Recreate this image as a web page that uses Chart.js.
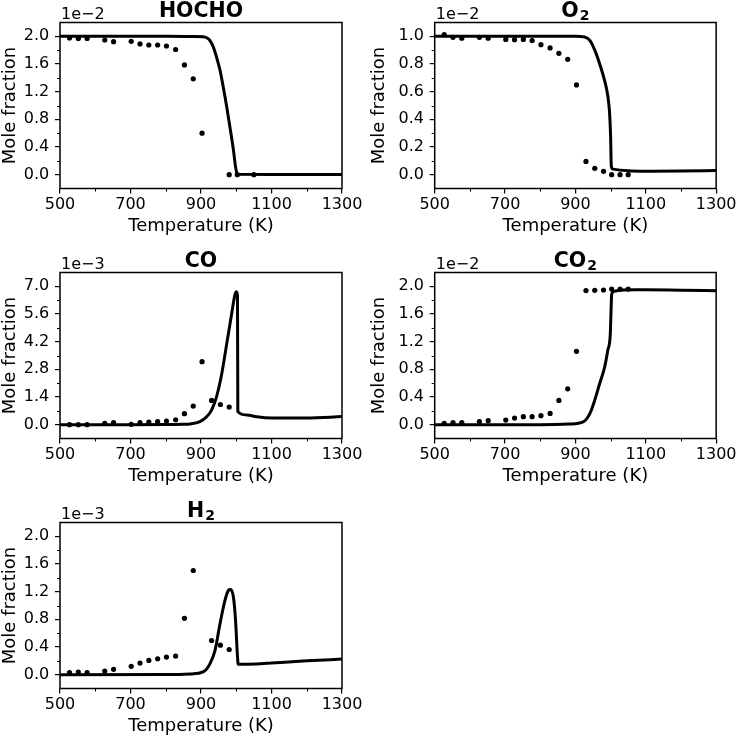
<!DOCTYPE html>
<html>
<head>
<meta charset="utf-8">
<script src="https://cdn.jsdelivr.net/npm/chart.js@4"></script>
<style>
  html, body { margin: 0; padding: 0; background: #fff; }
  #fig { position: relative; width: 738px; height: 738px; overflow: hidden; }
  #fig canvas { position: absolute; }
</style>
</head>
<body>
<div id="fig"></div>
<script>
"use strict";

// Temperature axis (K)
const xTicks = [500, 700, 900, 1100, 1300];

// HOCHO (x 1e-2)
const hochoLineT = [500, 600, 700, 800, 880, 906, 916, 925, 935, 944, 954, 963, 973, 982, 992, 998, 1003, 1100, 1200, 1300];
const hochoLineY = [2.0, 2.0, 2.0, 2.0, 1.998, 1.995, 1.98, 1.943, 1.846, 1.70, 1.51, 1.27, 0.98, 0.69, 0.356, 0.115, 0.005, 0.004, 0.004, 0.004];
const hochoExpT = [527, 552, 577, 627, 652, 702, 727, 752, 777, 802, 828, 853, 878, 903, 980, 1003, 1050];
const hochoExpY = [1.976, 1.97, 1.97, 1.947, 1.923, 1.928, 1.89, 1.875, 1.875, 1.86, 1.81, 1.587, 1.385, 0.60, 0, 0, 0];
const hochoTicks = [0.0, 0.4, 0.8, 1.2, 1.6, 2.0];

// O2 (x 1e-2)
const o2LineT = [500, 700, 900, 926, 941, 955, 969, 983, 992, 997, 1000, 1002, 1007, 1050, 1100, 1200, 1300];
const o2LineY = [1.0, 1.0, 1.0, 0.995, 0.971, 0.90, 0.80, 0.68, 0.57, 0.45, 0.28, 0.06, 0.04, 0.028, 0.025, 0.026, 0.03];
const o2ExpT = [527, 552, 577, 627, 652, 702, 727, 752, 777, 802, 828, 853, 878, 903, 930, 955, 980, 1003, 1027, 1050];
const o2ExpY = [1.012, 0.993, 0.986, 0.993, 0.986, 0.978, 0.976, 0.978, 0.969, 0.94, 0.916, 0.877, 0.834, 0.649, 0.096, 0.046, 0.024, 0.0, 0.0, 0.0];
const o2Ticks = [0.0, 0.2, 0.4, 0.6, 0.8, 1.0];

// CO (x 1e-3)
const coLineT = [500, 700, 800, 850, 869, 897, 916, 930, 944, 959, 973, 987, 996, 1000, 1003.5, 1004.5, 1030, 1058, 1100, 1200, 1300];
const coLineY = [0, 0, 0.01, 0.02, 0.035, 0.15, 0.40, 0.74, 1.41, 2.59, 4.10, 5.61, 6.55, 6.72, 6.55, 0.66, 0.49, 0.40, 0.34, 0.34, 0.41];
const coExpT = [527, 552, 577, 627, 652, 702, 727, 752, 777, 802, 828, 853, 878, 903, 930, 955, 980];
const coExpY = [0, 0, 0, 0.067, 0.10, 0.017, 0.10, 0.134, 0.15, 0.185, 0.25, 0.554, 0.94, 3.19, 1.225, 1.02, 0.89];
const coTicks = [0.0, 1.4, 2.8, 4.2, 5.6, 7.0];

// CO2 (x 1e-2)
const co2LineT = [500, 800, 884, 922, 941, 955, 969, 983, 992, 999, 1001, 1003, 1010, 1073, 1100, 1200, 1300];
const co2LineY = [0, 0, 0.01, 0.04, 0.16, 0.355, 0.595, 0.83, 1.075, 1.30, 1.60, 1.88, 1.93, 1.95, 1.95, 1.945, 1.935];
const co2ExpT = [527, 552, 577, 627, 652, 702, 727, 752, 777, 802, 828, 853, 878, 903, 930, 955, 980, 1003, 1027, 1050];
const co2ExpY = [0.019, 0.029, 0.029, 0.043, 0.058, 0.067, 0.096, 0.115, 0.115, 0.13, 0.163, 0.35, 0.518, 1.06, 1.938, 1.942, 1.947, 1.96, 1.96, 1.96];
const co2Ticks = [0.0, 0.4, 0.8, 1.2, 1.6, 2.0];

// H2 (x 1e-3)
const h2LineT = [500, 800, 869, 907, 926, 940, 954, 968, 978, 984, 992, 998, 1003, 1005.5, 1058, 1100, 1200, 1300];
const h2LineY = [0, 0.002, 0.01, 0.043, 0.164, 0.355, 0.74, 1.075, 1.22, 1.233, 1.12, 0.787, 0.308, 0.15, 0.155, 0.168, 0.20, 0.225];
const h2ExpT = [527, 552, 577, 627, 652, 702, 727, 752, 777, 802, 828, 853, 878, 930, 955, 980];
const h2ExpY = [0.029, 0.038, 0.029, 0.053, 0.077, 0.12, 0.168, 0.206, 0.23, 0.254, 0.269, 0.815, 1.506, 0.494, 0.427, 0.364];
const h2Ticks = [0.0, 0.4, 0.8, 1.2, 1.6, 2.0];

const FONT = "'DejaVu Sans', sans-serif";

// Panel boxes (grid of 2 columns x 3 rows)
const colLeft = [60, 434.7];
const colRight = [342, 716.7];
const yLabelGap = [45, 50.5];

// frame, minor ticks, title, offset text and axis labels
const panelDecor = {
    id: 'panelDecor',
    afterDraw(chart, args, opts) {
        const { ctx, chartArea: a, scales: { x, y } } = chart;
        ctx.save();
        ctx.strokeStyle = '#000';
        ctx.fillStyle = '#000';

        // minor ticks halfway between the major ones
        ctx.lineWidth = 1;
        ctx.beginPath();
        const xv = x.ticks.map(t => t.value);
        for (let i = 0; i < xv.length - 1; i++) {
            const px = Math.round(x.getPixelForValue((xv[i] + xv[i + 1]) / 2)) + 0.5;
            ctx.moveTo(px, a.bottom);
            ctx.lineTo(px, a.bottom + 3);
        }
        const yv = y.ticks.map(t => t.value);
        for (let i = 0; i < yv.length - 1; i++) {
            const py = Math.round(y.getPixelForValue((yv[i] + yv[i + 1]) / 2)) + 0.5;
            ctx.moveTo(a.left, py);
            ctx.lineTo(a.left - 3, py);
        }
        ctx.stroke();

        // box
        ctx.lineWidth = 1.5;
        ctx.strokeRect(a.left, a.top, a.right - a.left, a.bottom - a.top);

        // title, with an optional subscript
        const mainFont = 'bold 20.5px ' + FONT;
        const subFont = 'bold 14px ' + FONT;
        ctx.textBaseline = 'alphabetic';
        ctx.textAlign = 'left';
        ctx.font = mainFont;
        const wMain = ctx.measureText(opts.title).width;
        let wSub = 0;
        if (opts.sub) {
            ctx.font = subFont;
            wSub = ctx.measureText(opts.sub).width + 1;
        }
        const tx = (a.left + a.right) / 2 - (wMain + wSub) / 2;
        ctx.font = mainFont;
        ctx.fillText(opts.title, tx, a.top - 6);
        if (opts.sub) {
            ctx.font = subFont;
            ctx.fillText(opts.sub, tx + wMain + 1, a.top - 3);
        }

        // exponent
        ctx.font = '16px ' + FONT;
        ctx.fillText(opts.exp, a.left + 1, a.top - 3.5);

        // axis labels
        ctx.font = '18px ' + FONT;
        ctx.textAlign = 'center';
        ctx.fillText('Temperature (K)', (a.left + a.right) / 2, a.bottom + 42.5);
        ctx.translate(a.left - opts.yGap, (a.top + a.bottom) / 2);
        ctx.rotate(-Math.PI / 2);
        ctx.fillText('Mole fraction', 0, 0);
        ctx.restore();
    }
};

function makePanel(title, sub, exp, col, row, lineT, lineY, expT, expY, yTicks, yMin, yMax) {
    const fig = document.getElementById('fig');
    const canvas = document.createElement('canvas');
    const left = col * 369;
    const top = row * 250;
    const h = Math.min(250, 738 - top);
    canvas.width = 369;
    canvas.height = h;
    canvas.style.left = left + 'px';
    canvas.style.top = top + 'px';
    fig.appendChild(canvas);

    const boxL = colLeft[col];
    const boxR = colRight[col];
    const boxT = 22.5 + 250 * row;
    const boxB = 188.5 + 250 * row;

    new Chart(canvas, {
        type: 'scatter',
        data: {
            datasets: [
                {
                    type: 'line',
                    data: lineT.map((t, i) => ({ x: t, y: lineY[i] })),
                    borderColor: '#000',
                    borderWidth: 3,
                    pointRadius: 0,
                    cubicInterpolationMode: 'monotone',
                    fill: false,
                    order: 1
                },
                {
                    data: expT.map((t, i) => ({ x: t, y: expY[i] })),
                    backgroundColor: '#000',
                    borderWidth: 0,
                    pointRadius: 2.6,
                    order: 0
                }
            ]
        },
        options: {
            responsive: false,
            animation: false,
            devicePixelRatio: 1,
            layout: { padding: { top: boxT - top, right: left + 369 - boxR, left: 0, bottom: 0 } },
            plugins: {
                legend: { display: false },
                tooltip: { enabled: false },
                panelDecor: { title: title, sub: sub, exp: exp, yGap: yLabelGap[col] }
            },
            scales: {
                x: {
                    type: 'linear',
                    min: 500,
                    max: 1300,
                    afterBuildTicks: s => { s.ticks = xTicks.map(v => ({ value: v })); },
                    afterFit: s => { s.height = top + h - boxB; },
                    grid: { drawOnChartArea: false, color: '#000', lineWidth: 1.2, tickLength: 5 },
                    border: { display: false },
                    ticks: {
                        color: '#000',
                        font: { family: FONT, size: 16 },
                        padding: 1.5,
                        maxRotation: 0,
                        autoSkip: false,
                        callback: v => String(v)
                    }
                },
                y: {
                    type: 'linear',
                    min: yMin,
                    max: yMax,
                    afterBuildTicks: s => { s.ticks = yTicks.map(v => ({ value: v })); },
                    afterFit: s => { s.width = boxL - left; },
                    grid: { drawOnChartArea: false, color: '#000', lineWidth: 1.2, tickLength: 5 },
                    border: { display: false },
                    ticks: {
                        color: '#000',
                        font: { family: FONT, size: 16 },
                        padding: 5.7,
                        autoSkip: false,
                        callback: v => v.toFixed(1)
                    }
                }
            }
        },
        plugins: [panelDecor]
    });
}

makePanel('HOCHO', '', '1e\u22122', 0, 0, hochoLineT, hochoLineY, hochoExpT, hochoExpY, hochoTicks, -0.2, 2.2);
makePanel('O', '2', '1e\u22122', 1, 0, o2LineT, o2LineY, o2ExpT, o2ExpY, o2Ticks, -0.1, 1.1);
makePanel('CO', '', '1e\u22123', 0, 1, coLineT, coLineY, coExpT, coExpY, coTicks, -0.7, 7.7);
makePanel('CO', '2', '1e\u22122', 1, 1, co2LineT, co2LineY, co2ExpT, co2ExpY, co2Ticks, -0.2, 2.2);
makePanel('H', '2', '1e\u22123', 0, 2, h2LineT, h2LineY, h2ExpT, h2ExpY, h2Ticks, -0.2, 2.2);
</script>
</body>
</html>
